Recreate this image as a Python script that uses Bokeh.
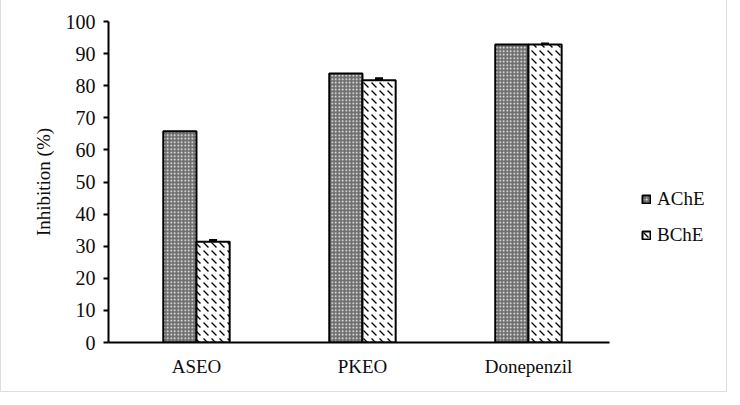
from bokeh.plotting import figure
from bokeh.models import Range1d, FixedTicker, Legend, LegendItem, Whisker, ColumnDataSource
from bokeh.embed import file_html
from bokeh.resources import INLINE

categories = ["ASEO", "PKEO", "Donepenzil"]
ache = [65.8, 83.8, 92.8]
bche = [31.4, 81.7, 92.8]
bche_err = [0.4, 0.5, 0.2]
y_ticks = [0, 10, 20, 30, 40, 50, 60, 70, 80, 90, 100]

FONT = "Liberation Serif"
TXT = "#0d0d0d"
BW = 0.2

xs = list(range(len(categories)))
x_a = [x - BW / 2 for x in xs]
x_b = [x + BW / 2 for x in xs]

src_a = ColumnDataSource(dict(x=x_a, top=ache))
src_b = ColumnDataSource(dict(x=x_b, top=bche,
                              up=[v + e for v, e in zip(bche, bche_err)],
                              lo=[v - e for v, e in zip(bche, bche_err)]))

p = figure(width=727, height=392, output_backend="svg", toolbar_location=None,
           x_range=Range1d(-0.53, 3.157), y_range=Range1d(0, 100),
           min_border_left=107, min_border_right=8, min_border_top=21, min_border_bottom=50,
           styles={"border-left": "1px solid #dedede", "border-right": "1px solid #dedede",
                   "border-bottom": "1px solid #dedede"})
p.outline_line_color = None
p.grid.visible = False

ra = p.vbar(x="x", top="top", width=BW, bottom=0, source=src_a, fill_color="#6e6e6e",
            line_color="black", line_width=2, hatch_pattern="dot", hatch_color="white",
            hatch_scale=3.5, hatch_weight=1.2)
rb = p.vbar(x="x", top="top", width=BW, bottom=0, source=src_b, fill_color="white",
            line_color="black", line_width=2, hatch_pattern="left_diagonal_dash", hatch_color="black",
            hatch_scale=8, hatch_weight=1.3)

w = Whisker(source=src_b, base="x", upper="up", lower="lo", line_color="black", line_width=2)
w.upper_head.size = 8
w.lower_head.size = 8
w.upper_head.line_width = 3
w.lower_head.line_width = 3
p.add_layout(w)

# axes
p.xaxis.ticker = FixedTicker(ticks=xs)
p.xaxis.bounds = (-0.53, 2.49)
p.xaxis.major_label_overrides = {i: c for i, c in enumerate(categories)}
p.xaxis.major_tick_line_color = None
p.xaxis.minor_tick_line_color = None
p.xaxis.axis_line_width = 2
p.xaxis.axis_line_color = "black"
p.xaxis.major_label_standoff = 7
p.xaxis.major_label_text_font = FONT
p.xaxis.major_label_text_font_size = "19px"
p.xaxis.major_label_text_color = TXT

p.yaxis.ticker = FixedTicker(ticks=y_ticks)
p.yaxis.minor_tick_line_color = None
p.yaxis.major_tick_in = 0
p.yaxis.major_tick_out = 5
p.yaxis.major_tick_line_width = 2
p.yaxis.major_tick_line_color = "black"
p.yaxis.axis_line_width = 2
p.yaxis.axis_line_color = "black"
p.yaxis.major_label_standoff = 8
p.yaxis.major_label_text_font = FONT
p.yaxis.major_label_text_font_size = "20px"
p.yaxis.major_label_text_color = TXT
p.yaxis.axis_label = "Inhibition (%)"
p.yaxis.axis_label_text_font = FONT
p.yaxis.axis_label_text_font_size = "19px"
p.yaxis.axis_label_text_font_style = "normal"
p.yaxis.axis_label_text_color = TXT
p.yaxis.axis_label_standoff = 9

legend = Legend(items=[LegendItem(label="AChE", renderers=[ra]), LegendItem(label="BChE", renderers=[rb])],
                location=(533, 96), orientation="vertical")
legend.border_line_color = None
legend.background_fill_alpha = 0
legend.padding = 0
legend.margin = 0
legend.spacing = 14
legend.glyph_width = 10
legend.glyph_height = 10
legend.label_height = 20
legend.label_standoff = 6
legend.label_text_font = FONT
legend.label_text_font_size = "19px"
legend.label_text_color = TXT
p.add_layout(legend, "center")

open("out.html", "w").write(file_html(p, INLINE))
